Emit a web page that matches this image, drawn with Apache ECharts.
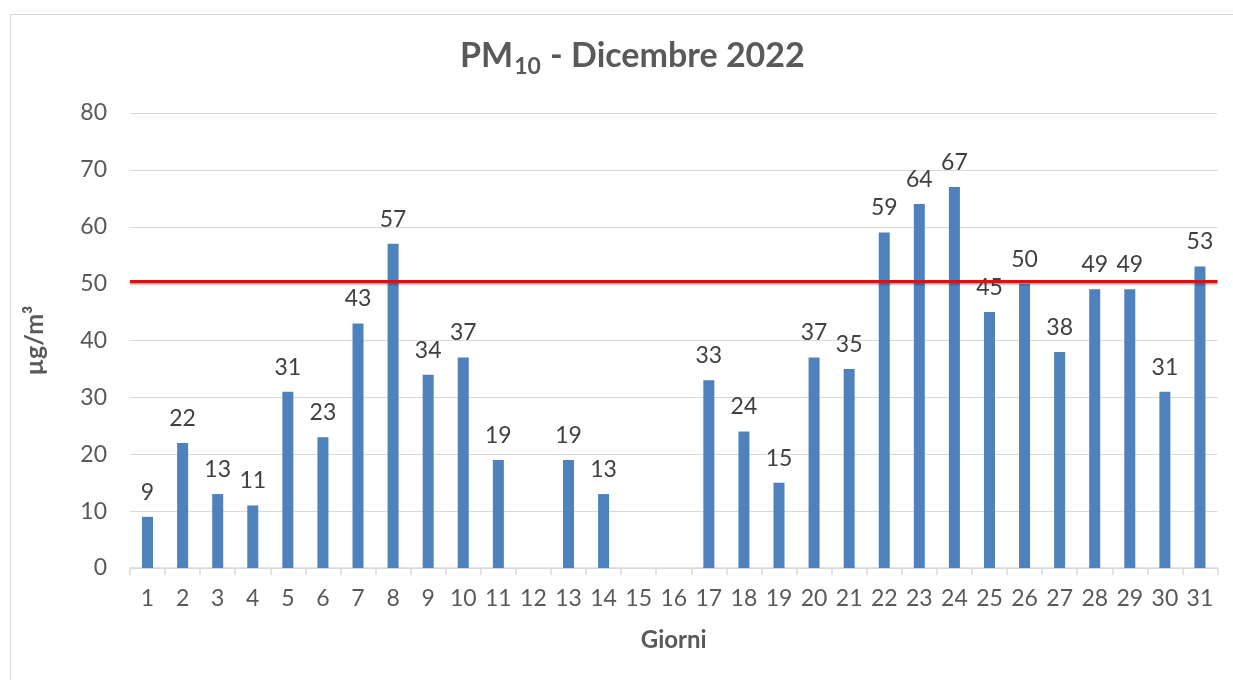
<!DOCTYPE html>
<html>
<head>
<meta charset="utf-8">
<script src="https://cdn.jsdelivr.net/npm/echarts@6/dist/echarts.min.js"></script>
<style>
html,body{margin:0;padding:0;background:#fff;}
#frame{position:absolute;left:10px;top:14px;width:1240px;height:700px;border:1px solid #d9d9d9;box-sizing:border-box;}
#chart{position:absolute;left:0;top:0;width:1233px;height:680px;}
</style>
</head>
<body>
<div id="frame"></div>
<div id="chart"></div>
<script>
const days = ['1','2','3','4','5','6','7','8','9','10','11','12','13','14','15','16','17','18','19','20','21','22','23','24','25','26','27','28','29','30','31'];
const pm10 = [9,22,13,11,31,23,43,57,34,37,19,null,19,13,null,null,33,24,15,37,35,59,64,67,45,50,38,49,49,31,53];
const limitValue = [50.5];
const yTicks = {min:0, max:80, interval:10};

const FONT = 'Lato';
const chart = echarts.init(document.getElementById('chart'));
chart.setOption({
  animation:false,
  textStyle:{fontFamily:FONT},
  title:{
    text:'{a|PM}{s|10}{a| - Dicembre 2022}',
    left:455, top:30,
    textStyle:{
      rich:{
        a:{fontSize:34,fontWeight:'bold',color:'#595959',fontFamily:FONT},
        s:{fontSize:23,fontWeight:'bold',color:'#595959',fontFamily:FONT,padding:[20,1,0,1]}
      }
    }
  },
  grid:{left:130,right:15.5,top:113,bottom:112},
  xAxis:{
    type:'category', data:days,
    name:'Giorni', nameLocation:'middle', nameGap:60,
    nameTextStyle:{fontSize:24,fontWeight:'bold',color:'#595959',fontFamily:FONT},
    axisLine:{lineStyle:{color:'#d9d9d9',width:1.5}},
    axisTick:{show:true,length:7,lineStyle:{color:'#d9d9d9',width:1.5}},
    axisLabel:{fontSize:23,color:'#595959',margin:19,fontFamily:FONT}
  },
  yAxis:{
    type:'value', min:yTicks.min, max:yTicks.max, interval:yTicks.interval,
    name:'µg/m³', nameLocation:'middle', nameGap:83, nameRotate:90,
    nameTextStyle:{fontSize:25,fontWeight:'bold',color:'#595959',fontFamily:FONT},
    axisLine:{show:false}, axisTick:{show:false},
    splitLine:{lineStyle:{color:'#d9d9d9',width:1.2}},
    axisLabel:{fontSize:23,color:'#595959',margin:23,fontFamily:FONT}
  },
  series:[{
    type:'bar', data:pm10, barWidth:11,
    itemStyle:{color:'#4f81bd'},
    label:{show:true,position:'top',distance:13,fontSize:23,color:'#404040',fontFamily:FONT},
    markLine:{
      symbol:'none', silent:true,
      label:{show:false},
      lineStyle:{color:'#ff0000',width:3,type:'solid',shadowColor:'rgba(0,0,0,0.25)',shadowBlur:2,shadowOffsetY:2},
      data:[{yAxis:limitValue[0]}]
    }
  }]
});
</script>
</body>
</html>
